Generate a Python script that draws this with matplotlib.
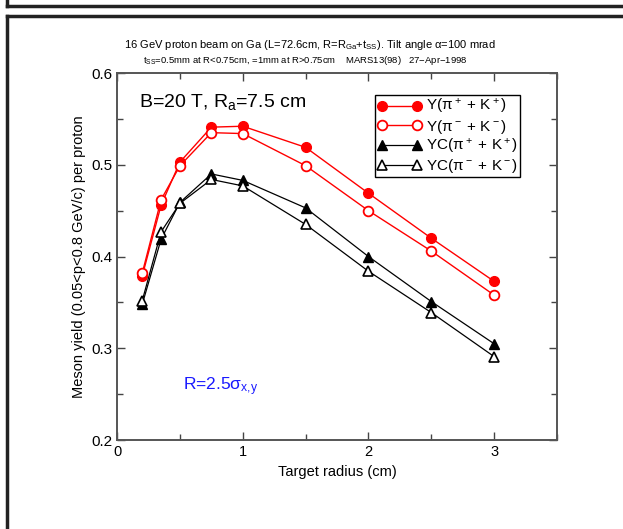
import matplotlib
matplotlib.use("Agg")
import matplotlib.pyplot as plt
from matplotlib.lines import Line2D
from matplotlib.ticker import MultipleLocator

plt.rcParams['font.family'] = ['Liberation Sans', 'DejaVu Sans']
plt.rcParams['mathtext.fontset'] = 'custom'
plt.rcParams['mathtext.rm'] = 'Liberation Sans'
plt.rcParams['mathtext.it'] = 'Liberation Sans'

# target radius (cm)
radius = [0.2, 0.35, 0.5, 0.75, 1.0, 1.5, 2.0, 2.5, 3.0]
y_pos = [0.379, 0.456, 0.503, 0.541, 0.542, 0.519, 0.469, 0.420, 0.373]
y_neg = [0.382, 0.462, 0.499, 0.535, 0.534, 0.499, 0.450, 0.406, 0.358]
yc_pos = [0.348, 0.419, 0.459, 0.490, 0.483, 0.453, 0.400, 0.351, 0.305]
yc_neg = [0.352, 0.427, 0.458, 0.484, 0.477, 0.435, 0.384, 0.339, 0.291]

labels = [r'Y($\pi^+$ + K$^+$)', r'Y($\pi^-$ + K$^-$)',
          r'YC($\pi^+$ + K$^+$)', r'YC($\pi^-$ + K$^-$)']

fig = plt.figure(figsize=(6.23, 5.29), dpi=100)
ax = fig.add_axes([0.188, 0.168, 0.706, 0.694])

ax.plot(radius, y_pos, '-o', color='red', mfc='red', ms=7, lw=1, label=labels[0])
ax.plot(radius, y_neg, '-o', color='red', mfc='white', mew=1.3, ms=7, lw=1, label=labels[1])
ax.plot(radius, yc_pos, '-^', color='black', mfc='black', ms=7, lw=0.9, label=labels[2])
ax.plot(radius, yc_neg, '-^', color='black', mfc='white', mew=1.2, ms=7, lw=0.9, label=labels[3])

ax.set_xlim(0, 3.5)
ax.set_ylim(0.2, 0.6)
ax.xaxis.set_major_locator(MultipleLocator(1))
ax.xaxis.set_minor_locator(MultipleLocator(0.5))
ax.yaxis.set_major_locator(MultipleLocator(0.1))
ax.yaxis.set_minor_locator(MultipleLocator(0.05))
ax.tick_params(which='both', direction='in', top=True, right=True, color='#444444')
ax.tick_params(which='major', length=6, width=1)
ax.tick_params(which='minor', length=4, width=1)
ax.tick_params(axis='y', labelsize=11)
ax.tick_params(axis='x', labelsize=10.5)
for s in ax.spines.values():
    s.set_color('#555555')
    s.set_linewidth(1.4)

ax.set_xlabel('Target radius (cm)', fontsize=10.5)
ax.set_ylabel('Meson yield (0.05<p<0.8 GeV/c) per proton', fontsize=10.5)

leg = ax.legend(loc='upper right', bbox_to_anchor=(0.917, 0.94), numpoints=2,
                handlelength=2.9, handletextpad=0.3, fontsize=11,
                fancybox=False, edgecolor='black', framealpha=1,
                borderpad=0.15, labelspacing=0.08, borderaxespad=0)
leg.get_frame().set_linewidth(1)

ax.text(0.05, 0.92, r'B=20 T, R$_\mathrm{a}$=7.5 cm', transform=ax.transAxes,
        fontsize=14, va='center')
ax.text(0.15, 0.145, r'R=2.5$\sigma_\mathrm{x{,}y}$', transform=ax.transAxes,
        fontsize=12.5, color='#1a1aff', va='center')

fig.text(0.497, 0.915, r'16 GeV proton beam on Ga (L=72.6cm, R=R$_\mathrm{Ga}$+t$_\mathrm{SS}$). Tilt angle $\alpha$=100 mrad',
         ha='center', va='center', fontsize=8)
fig.text(0.49, 0.886, r't$_\mathrm{SS}$=0.5mm at R<0.75cm, =1mm at R>0.75cm    MARS13(98)   27$-$Apr$-$1998',
         ha='center', va='center', fontsize=6.8)

# page frame
fig.add_artist(Line2D([0.011, 1], [1 - 5.5 / 529] * 2, color='#222222', lw=2.5, transform=fig.transFigure))
fig.add_artist(Line2D([0.011] * 2, [1, 1 - 5.5 / 529], color='#222222', lw=2.5, transform=fig.transFigure))
fig.add_artist(Line2D([0.011, 1], [1 - 16 / 529] * 2, color='#222222', lw=2.5, transform=fig.transFigure))
fig.add_artist(Line2D([0.011] * 2, [0, 1 - 16 / 529], color='#222222', lw=2.5, transform=fig.transFigure))

fig.savefig('out.png', dpi=100)
